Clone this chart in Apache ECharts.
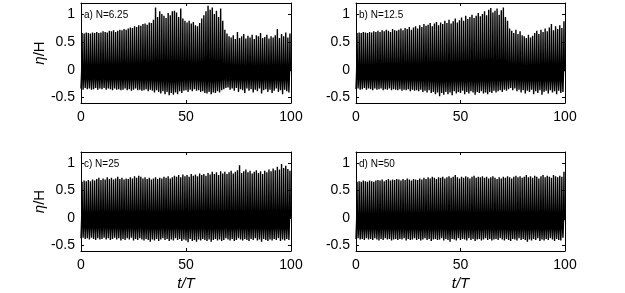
<!DOCTYPE html>
<html>
<head>
<meta charset="utf-8">
<script src="https://cdn.jsdelivr.net/npm/echarts@6/dist/echarts.min.js"></script>
<style>
  html, body { margin: 0; padding: 0; background: #fff; }
  #chart { width: 625px; height: 293px; }
</style>
</head>
<body>
<div id="chart"></div>
<script>
// wave crests / troughs, one per period t/T = 0..99
var crestA = [0.66,0.65,0.67,0.66,0.65,0.67,0.66,0.68,0.66,0.67,
  0.69,0.68,0.67,0.70,0.69,0.71,0.68,0.70,0.72,0.71,
  0.73,0.72,0.74,0.76,0.75,0.78,0.77,0.80,0.79,0.82,
  0.83,0.81,0.85,0.84,0.90,1.12,0.95,1.05,1.00,0.97,
  0.93,1.02,0.98,1.05,1.06,1.03,0.95,1.10,0.92,0.88,
  0.85,0.88,0.83,0.86,0.80,0.78,0.84,0.92,0.98,1.05,
  1.15,1.08,1.12,1.00,1.06,0.95,1.10,0.88,0.72,0.65,
  0.60,0.58,0.62,0.55,0.68,0.57,0.60,0.64,0.56,0.61,
  0.58,0.63,0.55,0.62,0.60,0.66,0.57,0.59,0.63,0.56,
  0.60,0.58,0.62,0.73,0.57,0.64,0.60,0.67,0.58,0.65];
var troughA = [-0.34,-0.36,-0.33,-0.35,-0.34,-0.36,-0.35,-0.33,-0.36,-0.34,
  -0.35,-0.33,-0.36,-0.34,-0.35,-0.37,-0.34,-0.36,-0.35,-0.37,
  -0.36,-0.34,-0.37,-0.35,-0.38,-0.36,-0.34,-0.37,-0.36,-0.38,
  -0.37,-0.35,-0.39,-0.36,-0.38,-0.41,-0.37,-0.40,-0.43,-0.39,
  -0.44,-0.40,-0.46,-0.42,-0.45,-0.41,-0.44,-0.39,-0.42,-0.38,
  -0.37,-0.40,-0.36,-0.39,-0.35,-0.38,-0.37,-0.40,-0.39,-0.42,
  -0.43,-0.40,-0.44,-0.41,-0.42,-0.39,-0.41,-0.37,-0.35,-0.33,
  -0.32,-0.36,-0.34,-0.38,-0.33,-0.40,-0.35,-0.37,-0.42,-0.34,
  -0.38,-0.35,-0.41,-0.36,-0.39,-0.34,-0.43,-0.37,-0.35,-0.40,
  -0.36,-0.42,-0.38,-0.34,-0.40,-0.37,-0.44,-0.36,-0.39,-0.41];

var crestB = [0.66,0.67,0.66,0.68,0.67,0.66,0.68,0.67,0.69,0.68,
  0.70,0.68,0.71,0.69,0.72,0.70,0.68,0.73,0.71,0.70,
  0.72,0.74,0.71,0.75,0.73,0.77,0.72,0.76,0.78,0.74,
  0.80,0.77,0.82,0.79,0.81,0.84,0.78,0.83,0.86,0.80,
  0.85,0.82,0.88,0.84,0.90,0.83,0.87,0.92,0.85,0.89,
  0.94,0.88,0.97,0.91,0.95,0.99,0.93,0.97,1.02,0.96,
  1.00,1.05,0.98,1.08,1.11,1.03,1.06,1.10,0.99,1.07,
  1.12,0.95,0.88,0.74,0.70,0.66,0.72,0.64,0.69,0.62,
  0.60,0.57,0.63,0.58,0.61,0.66,0.70,0.64,0.72,0.68,
  0.74,0.69,0.76,0.82,0.71,0.78,0.73,0.80,0.75,0.87];
var troughB = [-0.35,-0.34,-0.36,-0.35,-0.33,-0.36,-0.34,-0.35,-0.37,-0.34,
  -0.36,-0.35,-0.34,-0.37,-0.35,-0.36,-0.34,-0.37,-0.35,-0.36,
  -0.37,-0.35,-0.38,-0.36,-0.37,-0.35,-0.39,-0.36,-0.38,-0.37,
  -0.39,-0.36,-0.40,-0.38,-0.41,-0.37,-0.42,-0.40,-0.44,-0.41,
  -0.48,-0.42,-0.45,-0.40,-0.44,-0.41,-0.46,-0.39,-0.43,-0.40,
  -0.42,-0.38,-0.44,-0.40,-0.43,-0.39,-0.41,-0.45,-0.40,-0.42,
  -0.39,-0.43,-0.41,-0.44,-0.40,-0.42,-0.38,-0.41,-0.39,-0.37,
  -0.40,-0.36,-0.38,-0.35,-0.33,-0.37,-0.34,-0.39,-0.36,-0.41,
  -0.37,-0.43,-0.38,-0.40,-0.36,-0.44,-0.39,-0.42,-0.37,-0.45,
  -0.40,-0.38,-0.43,-0.37,-0.41,-0.39,-0.44,-0.38,-0.42,-0.40];

var crestC = [0.66,0.68,0.67,0.69,0.67,0.70,0.68,0.71,0.73,0.69,
  0.72,0.70,0.74,0.71,0.73,0.70,0.72,0.75,0.71,0.73,
  0.70,0.72,0.71,0.74,0.72,0.76,0.73,0.77,0.75,0.72,
  0.74,0.71,0.73,0.70,0.72,0.74,0.71,0.73,0.72,0.75,
  0.73,0.76,0.72,0.74,0.77,0.75,0.78,0.74,0.79,0.76,
  0.78,0.75,0.80,0.77,0.79,0.76,0.81,0.78,0.80,0.77,
  0.82,0.79,0.84,0.80,0.83,0.78,0.85,0.81,0.84,0.80,
  0.83,0.86,0.81,0.84,0.87,0.96,0.82,0.85,0.88,0.83,
  0.86,0.81,0.84,0.87,0.82,0.85,0.80,0.86,0.83,0.88,
  0.85,0.90,0.87,0.93,0.88,0.98,0.91,0.95,0.89,0.86];
var troughC = [-0.37,-0.36,-0.38,-0.37,-0.39,-0.36,-0.38,-0.40,-0.37,-0.39,
  -0.38,-0.36,-0.39,-0.37,-0.40,-0.38,-0.36,-0.39,-0.37,-0.41,
  -0.38,-0.40,-0.37,-0.39,-0.36,-0.41,-0.38,-0.40,-0.37,-0.39,
  -0.41,-0.38,-0.40,-0.43,-0.39,-0.41,-0.38,-0.42,-0.39,-0.37,
  -0.40,-0.38,-0.42,-0.39,-0.41,-0.37,-0.40,-0.38,-0.42,-0.39,
  -0.41,-0.44,-0.38,-0.42,-0.40,-0.43,-0.39,-0.41,-0.38,-0.40,
  -0.42,-0.39,-0.43,-0.40,-0.38,-0.41,-0.39,-0.42,-0.40,-0.37,
  -0.39,-0.41,-0.38,-0.42,-0.40,-0.37,-0.39,-0.41,-0.38,-0.40,
  -0.42,-0.38,-0.40,-0.37,-0.41,-0.39,-0.43,-0.38,-0.40,-0.42,
  -0.39,-0.41,-0.38,-0.40,-0.37,-0.42,-0.39,-0.41,-0.38,-0.40];

var crestD = [0.66,0.67,0.66,0.68,0.67,0.66,0.68,0.67,0.66,0.68,
  0.69,0.68,0.70,0.67,0.69,0.71,0.68,0.70,0.69,0.71,
  0.70,0.68,0.71,0.69,0.72,0.70,0.68,0.71,0.70,0.69,
  0.72,0.70,0.73,0.71,0.74,0.72,0.75,0.73,0.71,0.74,
  0.73,0.75,0.72,0.74,0.76,0.73,0.75,0.78,0.74,0.72,
  0.75,0.73,0.76,0.74,0.72,0.75,0.77,0.73,0.75,0.74,
  0.76,0.73,0.75,0.72,0.74,0.76,0.73,0.71,0.74,0.72,
  0.75,0.73,0.76,0.74,0.72,0.75,0.77,0.74,0.76,0.73,
  0.75,0.78,0.74,0.76,0.73,0.77,0.75,0.72,0.76,0.78,
  0.74,0.77,0.75,0.73,0.78,0.76,0.74,0.77,0.75,0.84];
var troughD = [-0.38,-0.37,-0.39,-0.38,-0.40,-0.37,-0.39,-0.38,-0.40,-0.37,
  -0.39,-0.41,-0.38,-0.40,-0.37,-0.39,-0.38,-0.41,-0.39,-0.38,
  -0.40,-0.38,-0.39,-0.37,-0.41,-0.38,-0.40,-0.39,-0.37,-0.40,
  -0.38,-0.41,-0.39,-0.37,-0.40,-0.38,-0.42,-0.39,-0.38,-0.40,
  -0.39,-0.37,-0.41,-0.38,-0.40,-0.43,-0.38,-0.39,-0.41,-0.37,
  -0.40,-0.38,-0.39,-0.41,-0.37,-0.40,-0.38,-0.42,-0.39,-0.38,
  -0.41,-0.39,-0.37,-0.40,-0.38,-0.41,-0.39,-0.38,-0.40,-0.37,
  -0.39,-0.41,-0.38,-0.40,-0.42,-0.38,-0.39,-0.41,-0.37,-0.40,
  -0.38,-0.40,-0.43,-0.39,-0.41,-0.38,-0.40,-0.37,-0.42,-0.39,
  -0.41,-0.38,-0.40,-0.37,-0.39,-0.42,-0.38,-0.40,-0.41,-0.36];

// level at the foot of each crest (top of the dark trough band)
var crestFoot = [-0.03, -0.03, -0.02, -0.04];

var panelLabels = ['a) N=6.25', 'b) N=12.5', 'c) N=25', 'd) N=50'];
var xTicks = [0, 50, 100];
var yTicks = [-0.5, 0, 0.5, 1];

var FONT = 'Liberation Sans';

// trough, foot, crest, foot within each period
function wave(crest, trough, foot) {
    var pts = [];
    for (var i = 0; i < crest.length; i++) {
        pts.push([i, trough[i]]);
        pts.push([i + 0.3, foot]);
        pts.push([i + 0.5, crest[i]]);
        pts.push([i + 0.7, foot]);
    }
    return pts;
}

var chart = echarts.init(document.getElementById('chart'));

var grids = [
    { left: 81, top: 3, width: 210, height: 100 },
    { left: 356, top: 3, width: 209, height: 100 },
    { left: 81, top: 152, width: 210, height: 99 },
    { left: 356, top: 152, width: 209, height: 99 }
];
var waves = [
    wave(crestA, troughA, crestFoot[0]),
    wave(crestB, troughB, crestFoot[1]),
    wave(crestC, troughC, crestFoot[2]),
    wave(crestD, troughD, crestFoot[3])
];

var xAxes = [], yAxes = [], series = [], graphics = [];
grids.forEach(function (g, k) {
    var bottomRow = k >= 2;
    var leftCol = k % 2 === 0;
    var xBase = {
        type: 'value', gridIndex: k, min: 0, max: 100, interval: 50,
        splitLine: { show: false },
        axisLine: { onZero: false, lineStyle: { color: '#000', width: 1 } },
        axisTick: { inside: true, length: 3, lineStyle: { color: '#000' } }
    };
    xAxes.push(Object.assign({}, xBase, {
        position: 'bottom',
        axisLabel: { color: '#000', fontSize: 14, fontFamily: FONT, margin: 7 },
        name: bottomRow ? 't/T' : '',
        nameLocation: 'middle',
        nameGap: 25,
        nameTextStyle: { color: '#000', fontSize: 15, fontFamily: FONT, fontStyle: 'italic' }
    }));
    xAxes.push(Object.assign({}, xBase, { position: 'top', axisLabel: { show: false } }));

    var yBase = {
        type: 'value', gridIndex: k, min: -0.6, max: 1.2,
        splitLine: { show: false },
        axisLine: { onZero: false, lineStyle: { color: '#000', width: 1 } },
        axisTick: { inside: true, length: 3, customValues: yTicks, lineStyle: { color: '#000' } }
    };
    yAxes.push(Object.assign({}, yBase, {
        position: 'left',
        axisLabel: { color: '#000', fontSize: 14, fontFamily: FONT, margin: 6, customValues: yTicks },
        name: leftCol ? '{i|η}/H' : '',
        nameLocation: 'middle',
        nameGap: 33,
        nameRotate: 90,
        nameTextStyle: {
            color: '#000', fontSize: 15, fontFamily: FONT,
            rich: { i: { fontStyle: 'italic', fontSize: 15, fontFamily: FONT, color: '#000' } }
        }
    }));
    yAxes.push(Object.assign({}, yBase, { position: 'right', axisLabel: { show: false } }));

    series.push({
        type: 'line',
        xAxisIndex: 2 * k,
        yAxisIndex: 2 * k,
        data: waves[k],
        showSymbol: false,
        symbol: 'none',
        lineStyle: { color: '#000', width: 1.4 },
        animation: false
    });

    graphics.push({
        type: 'text',
        left: g.left + 3,
        top: g.top + 7,
        style: { text: panelLabels[k], fill: '#000', font: '10px ' + FONT }
    });
});

chart.setOption({
    backgroundColor: '#fff',
    animation: false,
    grid: grids,
    xAxis: xAxes,
    yAxis: yAxes,
    series: series,
    graphic: { elements: graphics }
});
</script>
</body>
</html>
